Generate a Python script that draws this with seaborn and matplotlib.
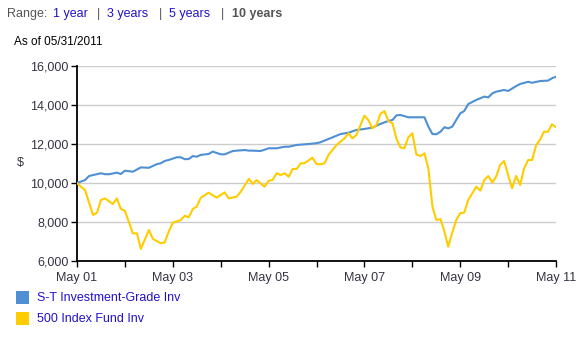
import matplotlib
matplotlib.use("Agg")
import matplotlib.pyplot as plt
import matplotlib.dates as mdates
from matplotlib.ticker import FixedLocator, FuncFormatter
from matplotlib.patches import Rectangle
import seaborn as sns
import pandas as pd

# ---------------- data ----------------
start_date = "2001-05-31"
series_names = ["S-T Investment-Grade Inv", "500 Index Fund Inv"]

st_months = [0, 2, 3, 6, 7, 8, 10, 11, 12, 14, 16, 18, 20, 21, 22, 23, 25, 26, 27, 28,
             29, 30, 31, 33, 34, 36, 37, 39, 40, 42, 43, 44, 46, 48, 50, 52, 53, 55, 58,
             60, 61, 64, 66, 68, 70, 72, 74, 76, 78, 79, 80, 81, 83, 85, 87, 88, 89, 90,
             91, 92, 93, 94, 95, 96, 97, 98, 100, 102, 103, 104, 105, 107, 108, 110, 111,
             113, 114, 116, 118, 119, 120]
st_values = [10000, 10150, 10360, 10500, 10450, 10450, 10530, 10460, 10630, 10580, 10800,
             10780, 10970, 11010, 11130, 11180, 11320, 11320, 11220, 11230, 11380, 11350,
             11440, 11490, 11610, 11470, 11470, 11640, 11660, 11690, 11660, 11660, 11640,
             11780, 11780, 11860, 11860, 11950, 12000, 12040, 12090, 12340, 12510, 12580,
             12720, 12770, 12840, 13030, 13180, 13230, 13470, 13490, 13370, 13370, 13370,
             12890, 12510, 12500, 12630, 12860, 12800, 12890, 13230, 13570, 13690, 14050,
             14260, 14430, 14390, 14600, 14680, 14770, 14720, 14970, 15080, 15190, 15140,
             15230, 15250, 15370, 15450]

idx_months = [0, 1, 2, 4, 5, 6, 7, 9, 10, 11, 12, 14, 15, 16, 18, 19, 21, 22, 23, 24, 26,
              27, 28, 29, 30, 31, 33, 35, 37, 38, 40, 41, 43, 44, 45, 47, 48, 49, 50, 51,
              52, 53, 54, 55, 56, 57, 59, 60, 61, 62, 63, 65, 67, 68, 69, 70, 72, 73, 74,
              75, 76, 77, 78, 79, 80, 81, 82, 83, 84, 85, 86, 87, 88, 89, 90, 91, 92, 93,
              94, 95, 96, 97, 98, 99, 100, 101, 102, 103, 104, 105, 106, 107, 108, 109,
              110, 111, 112, 113, 114, 115, 116, 117, 118, 119, 120]
idx_values = [10000, 9810, 9640, 8360, 8480, 9130, 9210, 8920, 9210, 8670, 8580, 7420, 7420,
              6620, 7590, 7130, 6910, 6960, 7500, 7960, 8100, 8320, 8240, 8670, 8790, 9250,
              9500, 9250, 9520, 9210, 9300, 9560, 10210, 9950, 10150, 9810, 10120, 10150,
              10500, 10410, 10500, 10320, 10720, 10720, 11010, 11010, 11300, 10970, 10960,
              11010, 11440, 11950, 12290, 12550, 12290, 12460, 13450, 13230, 12800, 12970,
              13540, 13690, 13180, 13060, 12260, 11830, 11780, 12340, 12550, 11470, 11380,
              11520, 10750, 8790, 8100, 8150, 7500, 6730, 7450, 8100, 8450, 8480, 9130,
              9470, 9810, 9610, 10150, 10360, 10020, 10320, 10920, 11130, 10410, 9730,
              10360, 9900, 10750, 11180, 11180, 11950, 12240, 12630, 12630, 13010, 12860]

y_ticks = [6000, 8000, 10000, 12000, 14000, 16000]
x_tick_labels = ["May 01", "May 03", "May 05", "May 07", "May 09", "May 11"]
line_colors = ["#4f8fd3", "#ffcc00"]

# ---------------- build frame ----------------
base = pd.Timestamp(start_date)
def to_dates(months):
    return [base + pd.DateOffset(months=m) for m in months]

df = pd.concat([
    pd.DataFrame({"date": to_dates(st_months), "value": st_values, "fund": series_names[0]}),
    pd.DataFrame({"date": to_dates(idx_months), "value": idx_values, "fund": series_names[1]}),
], ignore_index=True)

# ---------------- style ----------------
sns.set_theme(style="white")
plt.rcParams["font.family"] = ["Liberation Sans", "DejaVu Sans"]

W, H = 580, 347
fig = plt.figure(figsize=(W / 100, H / 100), dpi=100)
ax = fig.add_axes([77 / W, 1 - 261 / H, 479 / W, 195 / H])

sns.lineplot(data=df, x="date", y="value", hue="fund", hue_order=series_names,
             palette=line_colors, linewidth=1.5, legend=False, estimator=None,
             ax=ax, zorder=3)

end = base + pd.DateOffset(months=120)
ax.set_xlim(mdates.date2num(base), mdates.date2num(end))
ax.set_ylim(y_ticks[0], y_ticks[-1])

years = [base + pd.DateOffset(years=k) for k in range(11)]
major = [mdates.date2num(d) for d in years[::2]]
minor = [mdates.date2num(d) for d in years[1::2]]
ax.xaxis.set_major_locator(FixedLocator(major))
ax.xaxis.set_minor_locator(FixedLocator(minor))
ax.set_xticklabels(x_tick_labels)
ax.set_yticks(y_ticks)
ax.yaxis.set_major_formatter(FuncFormatter(lambda v, p: f"{int(v):,}"))

tick_color = "#333344"
ax.tick_params(axis="x", which="both", direction="out", length=4, width=1,
               color="black", labelsize=9, labelcolor=tick_color, pad=4, bottom=True)
ax.tick_params(axis="y", which="major", direction="out", length=4.5, width=1,
               color="black", labelsize=9, labelcolor=tick_color, pad=1.5, left=True)

ax.grid(axis="y", color="#cccccc", linewidth=1)
ax.grid(axis="x", visible=False)
for s in ["top", "right"]:
    ax.spines[s].set_visible(False)
for s in ["left", "bottom"]:
    ax.spines[s].set_color("black")
    ax.spines[s].set_linewidth(1.3)
ax.set_xlabel("")
ax.set_ylabel("")

# "$" axis label
fig.text(20 / W, 1 - 163 / H, "$", ha="center", va="center", fontsize=9, color=tick_color)

# ---------------- header ----------------
link = "#2211cc"
grey = "#555555"
hy = 1 - 14 / H
fig.text(7 / W, hy, "Range:", ha="left", va="center", fontsize=9, color=grey)
fig.text(53 / W, hy, "1 year", ha="left", va="center", fontsize=9, color=link)
fig.text(97 / W, hy, "|", ha="left", va="center", fontsize=9, color=grey)
fig.text(107 / W, hy, "3 years", ha="left", va="center", fontsize=9, color=link)
fig.text(159 / W, hy, "|", ha="left", va="center", fontsize=9, color=grey)
fig.text(169 / W, hy, "5 years", ha="left", va="center", fontsize=9, color=link)
fig.text(221 / W, hy, "|", ha="left", va="center", fontsize=9, color=grey)
fig.text(232 / W, hy, "10 years", ha="left", va="center", fontsize=9, color=grey,
         fontweight="bold")
fig.text(14 / W, 1 - 42 / H, "As of 05/31/2011", ha="left", va="center", fontsize=8.5,
         color="black")

# ---------------- legend ----------------
for i, (name, col) in enumerate(zip(series_names, line_colors)):
    top = 291 + i * 21
    fig.patches.append(Rectangle((16 / W, 1 - (top + 13) / H), 13 / W, 13 / H,
                                 transform=fig.transFigure, facecolor=col,
                                 edgecolor="none", figure=fig))
    fig.text(37 / W, 1 - (top + 7) / H, name, ha="left", va="center", fontsize=9,
             color=link)

fig.savefig("out.png", dpi=100)
